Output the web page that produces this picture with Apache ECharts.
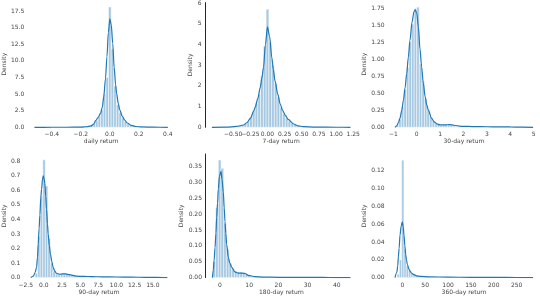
<!DOCTYPE html>
<html>
<head>
<meta charset="utf-8">
<style>html,body{margin:0;padding:0;background:#fff}#c{width:540px;height:296px}</style>
<script src="https://cdn.jsdelivr.net/npm/echarts@6/dist/echarts.min.js"></script>
</head>
<body>
<div id="c"></div>
<script>
// ---------- data ----------
const xNames = ['daily return', '7-day return', '30-day return', '90-day return', '180-day return', '360-day return'];

const xTicks1 = [-0.4, -0.2, 0, 0.2, 0.4];
const xLabels1 = ['−0.4', '−0.2', '0.0', '0.2', '0.4'];
const yTicks1 = [0, 2.5, 5, 7.5, 10, 12.5, 15, 17.5];
const yLabels1 = ['0.0', '2.5', '5.0', '7.5', '10.0', '12.5', '15.0', '17.5'];
const binStart1 = -0.225, binWidth1 = 0.018;
const bars1 = [0.03, 0.04, 0.05, 0.08, 0.12, 0.25, 0.55, 1.0, 1.6, 2.6, 5.0, 7.5, 18.1, 11.8, 6.2, 3.4, 2.2, 1.4, 0.9, 0.55, 0.35, 0.2, 0.12, 0.08, 0.05];
const kde1 = [[-0.52,0],[-0.4,0.005],[-0.3,0.01],[-0.2,0.03],[-0.16,0.08],[-0.13,0.2],[-0.11,0.5],[-0.098,1.0],[-0.08,1.5],[-0.064,2.1],[-0.052,3.0],[-0.042,4.6],[-0.03,7.3],[-0.02,10.6],[-0.01,14.3],[0,16.3],[0.01,15.4],[0.02,12.6],[0.03,9.0],[0.04,6.4],[0.047,5.1],[0.058,3.6],[0.069,2.6],[0.085,1.7],[0.102,1.1],[0.12,0.65],[0.147,0.3],[0.18,0.12],[0.22,0.05],[0.3,0.015],[0.4,0]];

const xTicks2 = [-0.75, -0.5, -0.25, 0, 0.25, 0.5, 0.75, 1.0, 1.25];
const xLabels2 = ['−0.75', '−0.50', '−0.25', '0.00', '0.25', '0.50', '0.75', '1.00', '1.25'];
const yTicks2 = [0, 1, 2, 3, 4, 5, 6];
const yLabels2 = ['0', '1', '2', '3', '4', '5', '6'];
const binStart2 = -0.5, binWidth2 = 0.04;
const bars2 = [0.02, 0.04, 0.06, 0.1, 0.17, 0.3, 0.5, 0.8, 1.15, 1.6, 2.5, 3.9, 5.7, 4.1, 3.0, 2.1, 1.45, 0.95, 0.65, 0.45, 0.3, 0.2, 0.13, 0.08, 0.05, 0.04, 0.03, 0.02];
const kde2 = [[-0.81,0],[-0.6,0.01],[-0.45,0.04],[-0.35,0.11],[-0.3,0.22],[-0.25,0.43],[-0.2,0.78],[-0.18,0.97],[-0.14,1.4],[-0.106,1.92],[-0.08,2.4],[-0.058,2.9],[-0.03,4.0],[0,4.85],[0.03,4.4],[0.064,3.35],[0.085,2.8],[0.11,2.24],[0.15,1.6],[0.185,1.13],[0.22,0.82],[0.26,0.58],[0.3,0.38],[0.38,0.16],[0.45,0.07],[0.52,0.03],[0.7,0.01],[1.0,0.003],[1.21,0]];

const xTicks3 = [-1, 0, 1, 2, 3, 4, 5];
const xLabels3 = ['−1', '0', '1', '2', '3', '4', '5'];
const yTicks3 = [0, 0.25, 0.5, 0.75, 1.0, 1.25, 1.5, 1.75];
const yLabels3 = ['0.00', '0.25', '0.50', '0.75', '1.00', '1.25', '1.50', '1.75'];
const binStart3 = -0.88, binWidth3 = 0.11;
const bars3 = [0.03, 0.12, 0.3, 0.55, 0.88, 1.25, 1.52, 1.75, 1.77, 0.93, 0.68, 0.42, 0.26, 0.15, 0.09, 0.05, 0.04, 0.03, 0.035, 0.04, 0.035, 0.03, 0.02, 0.015, 0.01, 0.01, 0.008, 0.008];
const kde3 = [[-0.93,0],[-0.86,0.02],[-0.78,0.07],[-0.72,0.13],[-0.64,0.25],[-0.57,0.4],[-0.5,0.58],[-0.43,0.79],[-0.36,1.03],[-0.29,1.28],[-0.2,1.55],[-0.12,1.7],[-0.06,1.73],[0,1.68],[0.07,1.48],[0.14,1.15],[0.21,0.89],[0.28,0.65],[0.36,0.45],[0.43,0.33],[0.5,0.25],[0.64,0.13],[0.75,0.08],[0.86,0.05],[1.0,0.035],[1.2,0.035],[1.4,0.04],[1.6,0.03],[1.9,0.015],[2.5,0.01],[3.0,0.008],[3.5,0.006],[4.0,0.005],[4.5,0.003],[4.98,0]];

const xTicks4 = [-2.5, 0, 2.5, 5, 7.5, 10, 12.5, 15];
const xLabels4 = ['−2.5', '0.0', '2.5', '5.0', '7.5', '10.0', '12.5', '15.0'];
const yTicks4 = [0, 0.1, 0.2, 0.3, 0.4, 0.5, 0.6, 0.7, 0.8];
const yLabels4 = ['0.0', '0.1', '0.2', '0.3', '0.4', '0.5', '0.6', '0.7', '0.8'];
const binStart4 = -1.2, binWidth4 = 0.35;
const bars4 = [0.03, 0.28, 0.56, 0.81, 0.63, 0.27, 0.1, 0.045, 0.025, 0.02, 0.025, 0.03, 0.025, 0.02, 0.015, 0.012, 0.01, 0.009, 0.008, 0.008, 0.007, 0.007, 0.006];
const kde4 = [[-1.8,0],[-1.45,0.01],[-1.2,0.035],[-1.0,0.07],[-0.88,0.14],[-0.77,0.23],[-0.65,0.34],[-0.55,0.43],[-0.42,0.55],[-0.31,0.61],[-0.18,0.68],[-0.08,0.70],[0.03,0.68],[0.14,0.65],[0.25,0.56],[0.37,0.47],[0.5,0.37],[0.6,0.30],[0.75,0.22],[0.91,0.16],[1.1,0.11],[1.28,0.07],[1.5,0.045],[1.73,0.03],[2.18,0.023],[2.6,0.025],[3.0,0.025],[3.5,0.02],[4.46,0.01],[5.5,0.008],[6.7,0.007],[8,0.005],[10,0.004],[12,0.003],[14,0.002],[15.5,0.002],[17,0]];

const xTicks5 = [0, 10, 20, 30, 40];
const xLabels5 = ['0', '10', '20', '30', '40'];
const yTicks5 = [0, 0.05, 0.1, 0.15, 0.2, 0.25, 0.3, 0.35];
const yLabels5 = ['0.00', '0.05', '0.10', '0.15', '0.20', '0.25', '0.30', '0.35'];
const binStart5 = -2.42, binWidth5 = 0.92;
const bars5 = [0.05, 0.22, 0.371, 0.345, 0.17, 0.09, 0.045, 0.028, 0.02, 0.017, 0.017, 0.016, 0.011, 0.006, 0.004, 0.003, 0.002, 0.002, 0.0015, 0.001];
const kde5 = [[-2.6,0],[-2.3,0.024],[-2.0,0.055],[-1.71,0.094],[-1.4,0.14],[-1.14,0.19],[-0.85,0.235],[-0.57,0.28],[-0.2,0.32],[0.34,0.335],[0.7,0.31],[1.14,0.27],[1.45,0.22],[1.71,0.177],[2.0,0.14],[2.28,0.105],[2.85,0.064],[3.4,0.045],[4.0,0.033],[5.1,0.018],[6.3,0.014],[7.5,0.014],[8.6,0.013],[9.7,0.007],[12,0.003],[15,0.0015],[20,0.001],[25,0.0008],[30,0.0005],[35,0.0004],[40,0.0002],[44.7,0]];

const xTicks6 = [0, 50, 100, 150, 200, 250];
const xLabels6 = ['0', '50', '100', '150', '200', '250'];
const yTicks6 = [0, 0.02, 0.04, 0.06, 0.08, 0.10, 0.12];
const yLabels6 = ['0.00', '0.02', '0.04', '0.06', '0.08', '0.10', '0.12'];
const binStart6 = -11.5, binWidth6 = 5.0;
const bars6 = [0.004, 0.02, 0.132, 0.032, 0.013, 0.008, 0.005, 0.0035, 0.0025, 0.0018, 0.0014, 0.001, 0.0008];
const kde6 = [[-16,0],[-12,0.006],[-10,0.013],[-8.7,0.023],[-7,0.033],[-5,0.048],[-2.5,0.058],[0,0.0626],[2,0.057],[3.7,0.048],[5.5,0.036],[7.3,0.026],[9,0.02],[11,0.015],[14,0.01],[16.8,0.0073],[20,0.0052],[24,0.0037],[31,0.002],[40,0.0013],[60,0.0008],[100,0.0005],[150,0.0003],[200,0.0002],[250,0.0001],[286,0]];

// ---------- layout ----------
const panels = [
  {grid:{left:22.5, top:1, width:152, height:126.3}, xr:[-0.566,0.446], ymax:19.0, xt:xTicks1, xl:xLabels1, yt:yTicks1, yl:yLabels1, bs:binStart1, bw:binWidth1, bars:bars1, kde:kde1, spine:false, yGap:16.5},
  {grid:{left:205, top:1, width:152.4, height:126.3}, xr:[-0.911,1.311], ymax:6.02, xt:xTicks2, xl:xLabels2, yt:yTicks2, yl:yLabels2, bs:binStart2, bw:binWidth2, bars:bars2, kde:kde2, spine:true, yGap:8.5},
  {grid:{left:388.1, top:1, width:151.9, height:126.3}, xr:[-1.2255,5.2755], ymax:1.86, xt:xTicks3, xl:xLabels3, yt:yTicks3, yl:yLabels3, bs:binStart3, bw:binWidth3, bars:bars3, kde:kde3, spine:false, yGap:16.5},
  {grid:{left:22.2, top:154, width:152, height:126.7}, xr:[-2.74,17.94], ymax:0.85, xt:xTicks4, xl:xLabels4, yt:yTicks4, yl:yLabels4, bs:binStart4, bw:binWidth4, bars:bars4, kde:kde4, spine:false, yGap:13.5},
  {grid:{left:205.5, top:154, width:151.9, height:126.7}, xr:[-4.965,47.065], ymax:0.39, xt:xTicks5, xl:xLabels5, yt:yTicks5, yl:yLabels5, bs:binStart5, bw:binWidth5, bars:bars5, kde:kde5, spine:true, yGap:16.5},
  {grid:{left:388.1, top:154, width:152, height:126.7}, xr:[-31.1,301.1], ymax:0.139, xt:xTicks6, xl:xLabels6, yt:yTicks6, yl:yLabels6, bs:binStart6, bw:binWidth6, bars:bars6, kde:kde6, spine:false, yGap:16.5}
];

const FONT = 'DejaVu Sans';
const TXT = '#444444';
const BAR = '#a5c8e1';
const LINE = '#1f77b4';

function labelFor(ticks, labels) {
  return function (v) {
    let best = 0, d = Infinity;
    for (let i = 0; i < ticks.length; i++) {
      const dd = Math.abs(ticks[i] - v);
      if (dd < d) { d = dd; best = i; }
    }
    return labels[best];
  };
}

const grids = [], xAxes = [], yAxes = [], series = [];
panels.forEach((p, i) => {
  grids.push(Object.assign({containLabel:false}, p.grid));
  xAxes.push({
    type:'value', gridIndex:i, min:p.xr[0], max:p.xr[1],
    name:xNames[i], nameLocation:'middle', nameGap:11,
    nameTextStyle:{fontFamily:FONT, fontSize:6, color:TXT},
    axisLine:{show:false, onZero:false}, axisTick:{show:false, customValues:p.xt}, splitLine:{show:false},
    axisLabel:{customValues:p.xt, formatter:labelFor(p.xt, p.xl), fontFamily:FONT, fontSize:6, color:TXT, margin:4.5}
  });
  yAxes.push({
    type:'value', gridIndex:i, min:0, max:p.ymax,
    name:'Density', nameLocation:'middle', nameGap:p.yGap, nameRotate:90,
    nameTextStyle:{fontFamily:FONT, fontSize:6, color:TXT},
    axisLine:{show:p.spine, onZero:false, lineStyle:{color:'#262626', width:1}},
    axisTick:{show:false, customValues:p.yt}, splitLine:{show:false},
    axisLabel:{customValues:p.yt, formatter:labelFor(p.yt, p.yl), fontFamily:FONT, fontSize:6, color:TXT, margin:3.5},
    z:5
  });
  const barData = p.bars.map((h, k) => [p.bs + k * p.bw, p.bs + (k + 1) * p.bw, h]);
  series.push({
    type:'custom', xAxisIndex:i, yAxisIndex:i, data:barData, encode:{x:[0,1], y:2},
    renderItem:function (params, api) {
      const a = api.coord([api.value(0), api.value(2)]);
      const b = api.coord([api.value(1), 0]);
      return {type:'rect', shape:{x:a[0], y:a[1], width:b[0]-a[0], height:b[1]-a[1]},
        style:{fill:BAR, stroke:'#ffffff', lineWidth:0.5}};
    },
    silent:true
  });
  series.push({
    type:'line', xAxisIndex:i, yAxisIndex:i, data:p.kde, showSymbol:false, smooth:0.3, smoothMonotone:'x',
    lineStyle:{color:LINE, width:1.2}, silent:true, z:3
  });
});

const chart = echarts.init(document.getElementById('c'), null, {renderer:'canvas'});
chart.setOption({animation:false, backgroundColor:'#ffffff', grid:grids, xAxis:xAxes, yAxis:yAxes, series:series});
</script>
</body>
</html>
